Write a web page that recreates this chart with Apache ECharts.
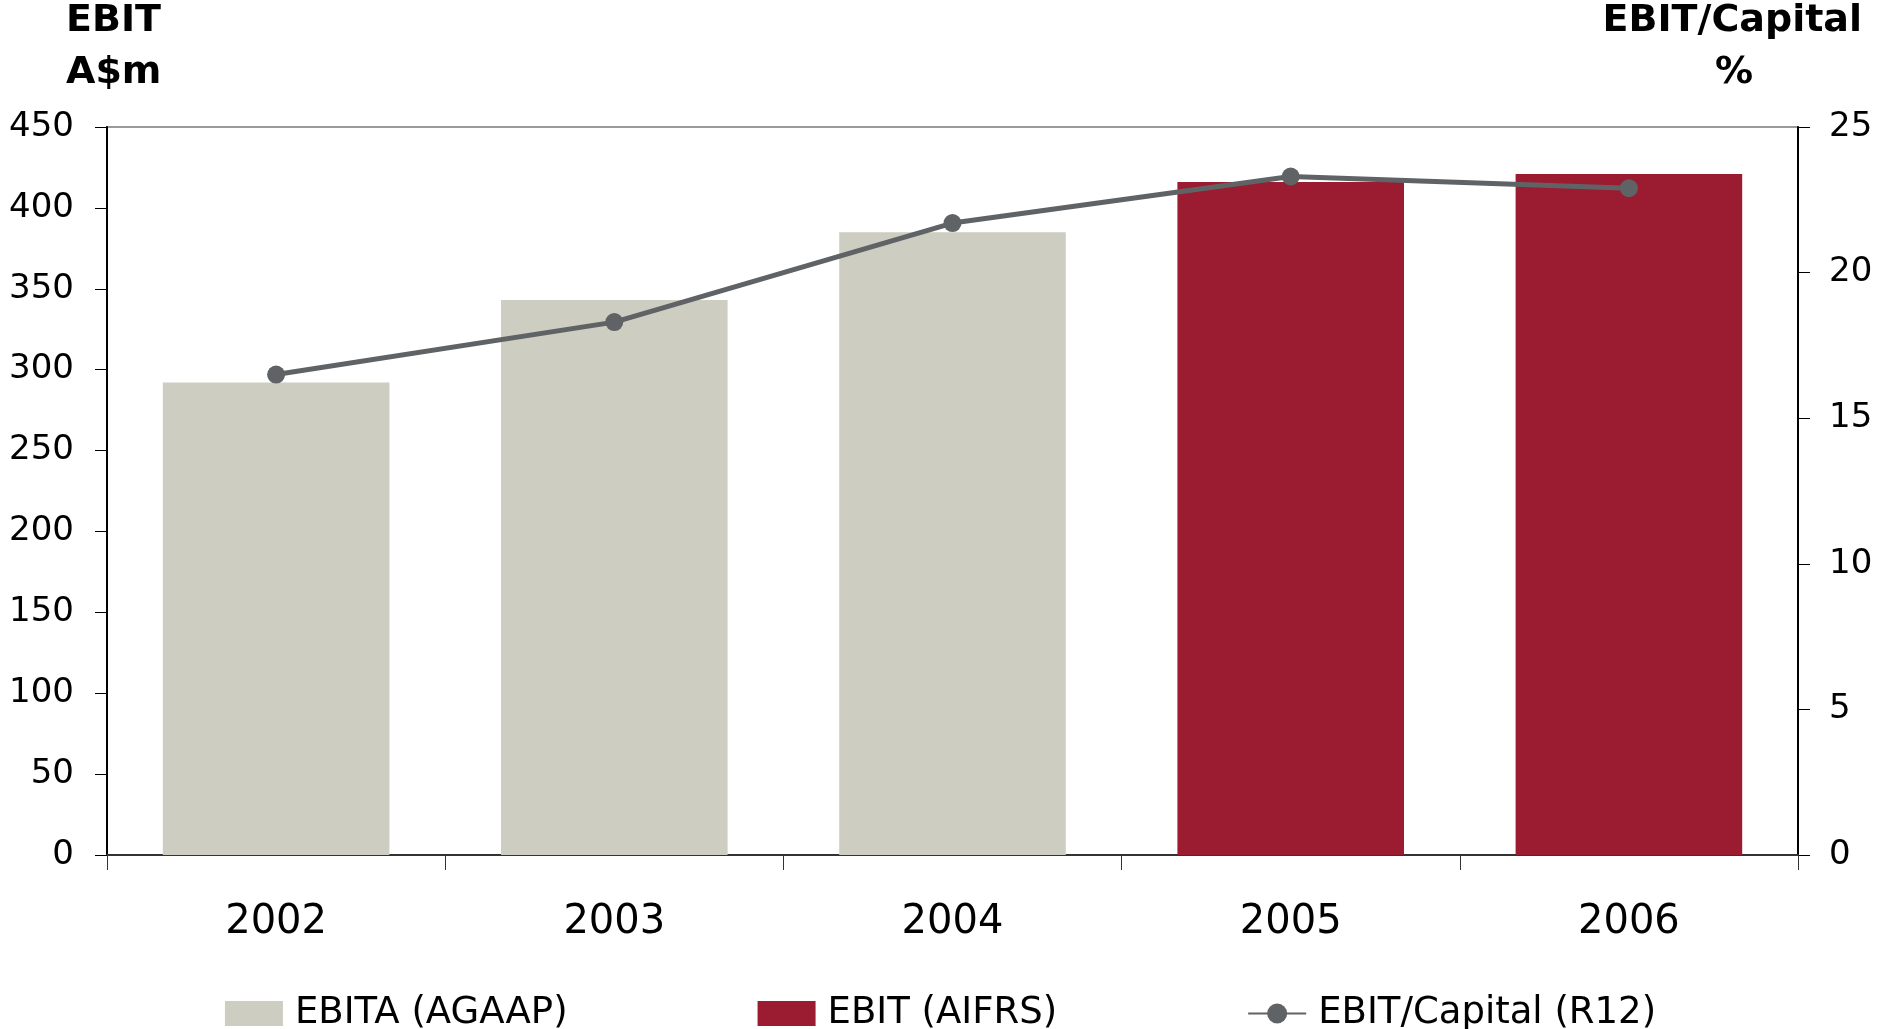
<!DOCTYPE html>
<html>
<head>
<meta charset="utf-8">
<script src="https://cdn.jsdelivr.net/npm/echarts@6/dist/echarts.min.js"></script>
<style>
  html, body { margin: 0; padding: 0; background: #fff; }
  #main { width: 1881px; height: 1029px; }
</style>
</head>
<body>
<div id="main"></div>
<script>
const years = ['2002', '2003', '2004', '2005', '2006'];
const ebitaAgaap = [292, 343, 385, '-', '-'];
const ebitAifrs = ['-', '-', '-', 416, 421];
const ebitCapital = [16.5, 18.3, 21.7, 23.3, 22.9];

const font = 'DejaVu Sans';
const chart = echarts.init(document.getElementById('main'));

const option = {
  backgroundColor: '#fff',
  textStyle: { fontFamily: font },
  grid: {
    left: 107, right: 83, top: 127, bottom: 174,
    show: true, borderColor: '#9a9a9a', borderWidth: 2, backgroundColor: 'transparent'
  },
  graphic: [
    { type: 'text', left: 66, top: 2, style: { text: 'EBIT', font: 'bold 38px "DejaVu Sans"', fill: '#000' } },
    { type: 'text', left: 66, top: 54, style: { text: 'A$m', font: 'bold 38px "DejaVu Sans"', fill: '#000' } },
    { type: 'text', right: 19, top: 2, style: { text: 'EBIT/Capital', font: 'bold 38px "DejaVu Sans"', fill: '#000' } },
    { type: 'text', x: 1734, y: 54, style: { text: '%', font: 'bold 38px "DejaVu Sans"', fill: '#000', textAlign: 'center' } }
  ],
  legend: {
    top: 990,
    left: 'center',
    itemWidth: 58,
    itemHeight: 25,
    itemGap: 190,
    textStyle: { fontSize: 37, color: '#000', fontFamily: font, padding: [0, 0, 0, 7] },
    data: [
      { name: 'EBITA (AGAAP)', icon: 'rect' },
      { name: 'EBIT (AIFRS)', icon: 'rect' },
      { name: 'EBIT/Capital (R12)' }
    ]
  },
  xAxis: {
    type: 'category',
    data: years,
    axisLine: { lineStyle: { color: '#333', width: 2 } },
    axisTick: { show: true, length: 15, lineStyle: { color: '#333', width: 1 } },
    axisLabel: { fontSize: 40, color: '#000', margin: 48 }
  },
  yAxis: [
    {
      type: 'value', min: 0, max: 450, interval: 50,
      axisLine: { show: true, lineStyle: { color: '#000', width: 2 } },
      axisTick: { show: true, length: 12, lineStyle: { color: '#000' } },
      splitLine: { show: false },
      axisLabel: { fontSize: 34, color: '#000', margin: 33 }
    },
    {
      type: 'value', min: 0, max: 25, interval: 5,
      axisLine: { show: true, lineStyle: { color: '#000', width: 2 } },
      axisTick: { show: true, length: 12, lineStyle: { color: '#000' } },
      splitLine: { show: false },
      axisLabel: { fontSize: 34, color: '#000', margin: 31 }
    }
  ],
  series: [
    {
      name: 'EBITA (AGAAP)', type: 'bar', data: ebitaAgaap,
      barWidth: '67%', barGap: '-100%',
      itemStyle: { color: '#cdcdc1' }
    },
    {
      name: 'EBIT (AIFRS)', type: 'bar', data: ebitAifrs,
      barWidth: '67%', barGap: '-100%',
      itemStyle: { color: '#9b1b30' }
    },
    {
      name: 'EBIT/Capital (R12)', type: 'line', yAxisIndex: 1, data: ebitCapital,
      symbol: 'circle', symbolSize: 18,
      lineStyle: { color: '#5f6366', width: 5 },
      itemStyle: { color: '#5f6366' },
      z: 5
    }
  ]
};

chart.setOption(option);
</script>
</body>
</html>
